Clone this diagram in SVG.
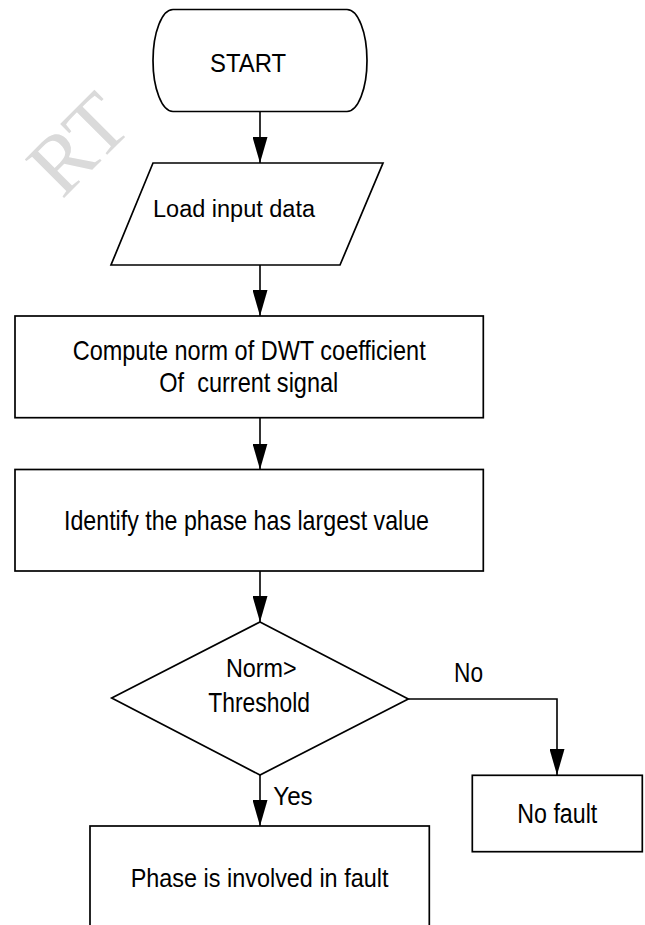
<svg xmlns="http://www.w3.org/2000/svg" width="645" height="925" viewBox="0 0 645 925">
  <style>
    .shape { fill: #ffffff; stroke: #000000; stroke-width: 1.7; }
    .lbl { font-family: "Liberation Sans", Arial, sans-serif; fill: #000000; }
    .conn { fill: none; stroke: #000000; stroke-width: 1.6; marker-end: url(#arrow); }
    .wm { font-family: "Liberation Serif", "Times New Roman", serif; font-size: 84px; fill: #dadada; }
  </style>
  <defs>
    <marker id="arrow" markerUnits="userSpaceOnUse" markerWidth="26" markerHeight="15" refX="26" refY="7.5" orient="auto">
      <path d="M0,0 L26,7.5 L0,15 Z" fill="#000000"/>
    </marker>
  </defs>
  <rect x="0" y="0" width="645" height="925" fill="#ffffff"/>

  <g id="watermark">
    <text class="wm" x="62" y="200" transform="rotate(-45 62 200)">RT</text>
  </g>

  <g id="connectors">
    <path class="conn" d="M260,111.5 V163"/>
    <path class="conn" d="M260,265 V316"/>
    <path class="conn" d="M260,418 V469.5"/>
    <path class="conn" d="M260,571 V622"/>
    <path class="conn" d="M408.3,699 H557 V775"/>
    <path class="conn" d="M260,775 V826"/>
  </g>

  <g id="start">
    <rect class="shape" x="153" y="9.5" width="214" height="102" rx="20" ry="51"/>
    <text class="lbl" x="210" y="71.7" font-size="26.5" textLength="76" lengthAdjust="spacingAndGlyphs">START</text>
  </g>

  <g id="load">
    <polygon class="shape" points="153,163 383,163 340,265 111,265"/>
    <text class="lbl" x="153" y="217" font-size="23" textLength="162" lengthAdjust="spacingAndGlyphs">Load input data</text>
  </g>

  <g id="compute">
    <rect class="shape" x="15" y="316" width="468.3" height="101.7"/>
    <text class="lbl" x="72.7" y="360" font-size="28" textLength="353" lengthAdjust="spacingAndGlyphs">Compute norm of DWT coefficient</text>
    <text class="lbl" x="159.3" y="391.7" font-size="28" textLength="179" lengthAdjust="spacingAndGlyphs" xml:space="preserve">Of  current signal</text>
  </g>

  <g id="identify">
    <rect class="shape" x="15" y="469.5" width="468.3" height="101.5"/>
    <text class="lbl" x="64" y="530" font-size="28" textLength="365" lengthAdjust="spacingAndGlyphs">Identify the phase has largest value</text>
  </g>

  <g id="decision">
    <polygon class="shape" points="260,622 408.3,699 260,775 111.7,698"/>
    <text class="lbl" x="226" y="677.3" font-size="25" textLength="70.7" lengthAdjust="spacingAndGlyphs">Norm&gt;</text>
    <text class="lbl" x="208.3" y="711.7" font-size="27" textLength="101.7" lengthAdjust="spacingAndGlyphs">Threshold</text>
  </g>

  <g id="label-no">
    <text class="lbl" x="454" y="681.7" font-size="27" textLength="29" lengthAdjust="spacingAndGlyphs">No</text>
  </g>

  <g id="label-yes">
    <text class="lbl" x="273.3" y="805" font-size="26" textLength="39.4" lengthAdjust="spacingAndGlyphs">Yes</text>
  </g>

  <g id="nofault">
    <rect class="shape" x="472.3" y="775.3" width="170" height="76.4"/>
    <text class="lbl" x="517.3" y="822.7" font-size="27" textLength="80" lengthAdjust="spacingAndGlyphs">No fault</text>
  </g>

  <g id="fault">
    <rect class="shape" x="90" y="826" width="339.3" height="120"/>
    <text class="lbl" x="130.7" y="886.7" font-size="26" textLength="257.7" lengthAdjust="spacingAndGlyphs">Phase is involved in fault</text>
  </g>
</svg>
